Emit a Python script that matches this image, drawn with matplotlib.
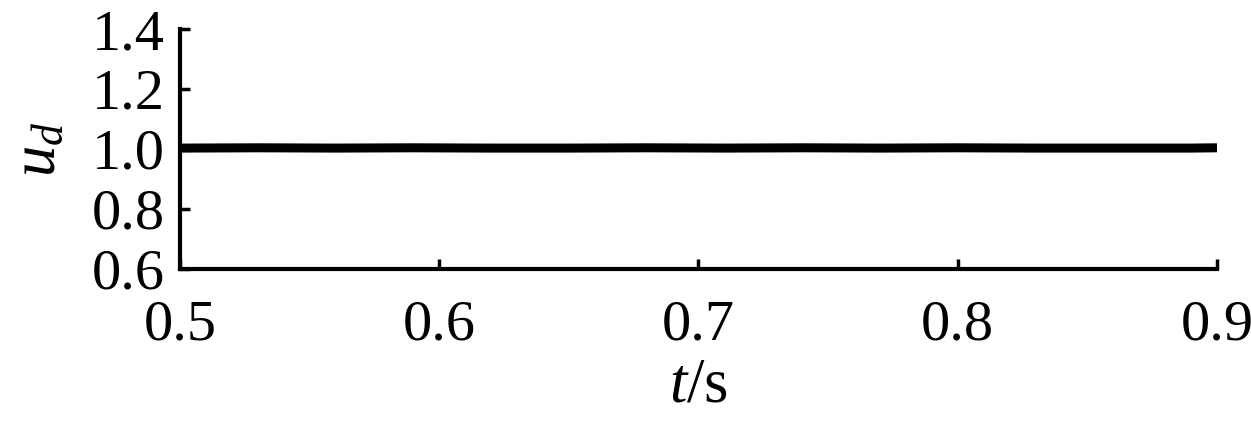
import matplotlib
matplotlib.use("Agg")
import matplotlib.pyplot as plt

plt.rcParams['font.family'] = ['Liberation Serif', 'DejaVu Serif']
plt.rcParams['mathtext.fontset'] = 'custom'
plt.rcParams['mathtext.rm'] = 'Liberation Serif'
plt.rcParams['mathtext.it'] = 'Liberation Serif:italic'

# data: u_d stays at about 1.0 with tiny ripple
t_vals = [0.50, 0.53, 0.56, 0.59, 0.62, 0.65, 0.68, 0.71, 0.74, 0.77, 0.80, 0.83, 0.86, 0.89, 0.90]
ud_vals = [1.003, 1.004, 1.003, 1.004, 1.003, 1.003, 1.004, 1.003, 1.004, 1.003, 1.004, 1.003, 1.003, 1.003, 1.004]
x_ticks = [0.5, 0.6, 0.7, 0.8, 0.9]
y_ticks = [0.6, 0.8, 1.0, 1.2, 1.4]

fig = plt.figure(figsize=(12.51, 4.24), dpi=100)
ax = fig.add_axes([0.1439, 0.3656, 0.9728 - 0.1439, 0.9316 - 0.3656])
ax.plot(t_vals, ud_vals, color='black', lw=6.5, solid_capstyle='butt')
ax.set_xlim(0.5, 0.9)
ax.set_ylim(0.6, 1.4)
ax.set_xticks(x_ticks)
ax.set_yticks(y_ticks)
ax.set_xticklabels([f"{v:.1f}" for v in x_ticks])
ax.set_yticklabels([f"{v:.1f}" for v in y_ticks])
for s in ['top', 'right']:
    ax.spines[s].set_visible(False)
for s in ['left', 'bottom']:
    ax.spines[s].set_linewidth(3)
ax.tick_params(direction='in', length=7, width=2.5, labelsize=42, colors='black')
ax.tick_params(axis='x', pad=22)
ax.tick_params(axis='y', pad=11)
ax.set_xlabel(r'$t$/s', fontsize=45, labelpad=4)
ax.set_ylabel(r'$u_d$', fontsize=45, labelpad=16)
fig.savefig('out.png', dpi=100)
